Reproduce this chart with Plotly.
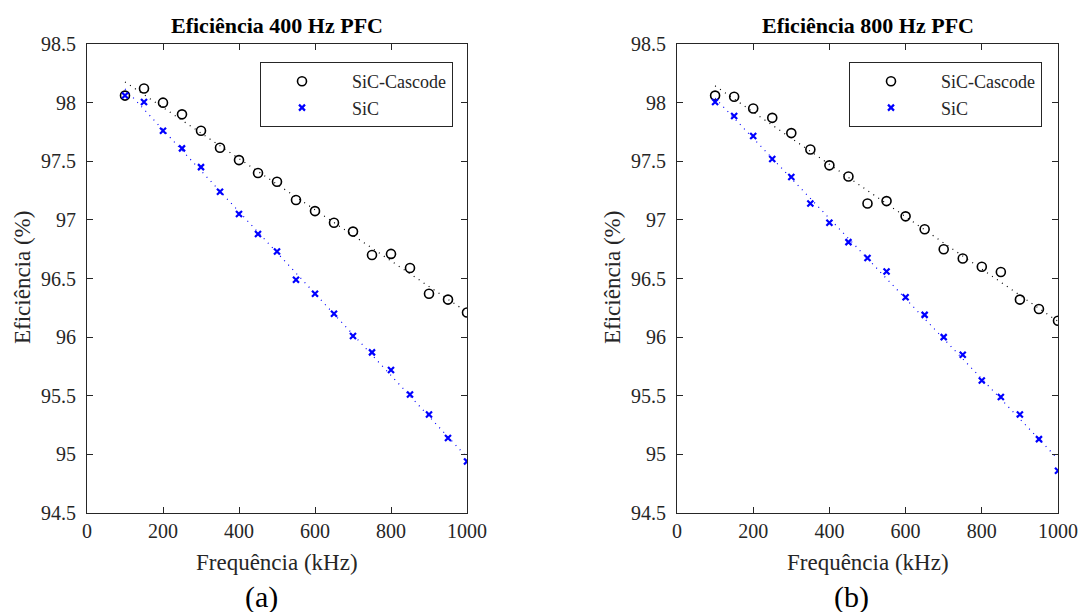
import numpy as np
import plotly.graph_objects as go

# Switching frequency (kHz)
freq_khz = [100, 150, 200, 250, 300, 350, 400, 450, 500, 550,
            600, 650, 700, 750, 800, 850, 900, 950, 1000]

# Efficiency (%) - 400 Hz PFC
eff400_cascode = [98.06, 98.12, 98.00, 97.90, 97.76, 97.615, 97.51, 97.40, 97.325, 97.17,
                  97.075, 96.975, 96.90, 96.70, 96.71, 96.59, 96.37, 96.32, 96.21]
eff400_sic = [98.06, 98.005, 97.76, 97.61, 97.45, 97.24, 97.05, 96.88, 96.73, 96.49,
              96.37, 96.20, 96.01, 95.87, 95.72, 95.51, 95.34, 95.14, 94.94]

# Efficiency (%) - 800 Hz PFC
eff800_cascode = [98.06, 98.05, 97.95, 97.87, 97.74, 97.60, 97.465, 97.37, 97.14, 97.16,
                  97.03, 96.92, 96.75, 96.67, 96.60, 96.555, 96.32, 96.24, 96.14]
eff800_sic = [98.005, 97.886, 97.715, 97.52, 97.365, 97.14, 96.975, 96.81, 96.675, 96.56,
              96.34, 96.19, 96.00, 95.85, 95.63, 95.49, 95.34, 95.13, 94.86]

x_ticks = [0, 200, 400, 600, 800, 1000]
y_ticks = [94.5, 95, 95.5, 96, 96.5, 97, 97.5, 98, 98.5]
y_tick_text = ["94.5", "95", "95.5", "96", "96.5", "97", "97.5", "98", "98.5"]

series_names = ["SiC-Cascode", "SiC"]
panel_titles = ["Eficiência 400 Hz PFC", "Eficiência 800 Hz PFC"]
panel_tags = ["(a)", "(b)"]
x_title = "Frequência (kHz)"
y_title = "Eficiência (%)"

SERIF = "Liberation Serif, Times New Roman, serif"
INK = "#262626"
W, H = 1080, 612

fig = go.Figure()

panels = [
    (eff400_cascode, eff400_sic, "x", "y", "legend"),
    (eff800_cascode, eff800_sic, "x2", "y2", "legend2"),
]

for cascode, sic, xa, ya, leg in panels:
    for vals, name, color, symbol, msize, mline in [
        (cascode, series_names[0], "black", "circle-open", 9, 1.6),
        (sic, series_names[1], "#0000FF", "x-thin", 6, 2.2),
    ]:
        # linear trend line through the measured points
        coef = np.polyfit(freq_khz, vals, 1)
        ends = [freq_khz[0], freq_khz[-1]]
        fig.add_trace(go.Scatter(
            x=ends, y=list(np.polyval(coef, ends)), mode="lines",
            line=dict(color=color, width=1.2, dash="1px,5px"),
            showlegend=False, hoverinfo="skip", xaxis=xa, yaxis=ya,
        ))
        fig.add_trace(go.Scatter(
            x=freq_khz, y=vals, mode="markers", name="\u00a0\u00a0" + name, legend=leg,
            marker=dict(symbol=symbol, size=msize, color=color,
                        line=dict(color=color, width=mline)),
            xaxis=xa, yaxis=ya,
        ))

x_domains = [[87 / W, 467 / W], [677 / W, 1058 / W]]
y_domain = [1 - 513 / H, 1 - 44 / H]

axis_common = dict(
    showgrid=False, zeroline=False, showline=True, linecolor=INK, linewidth=1,
    mirror="ticks", ticks="inside", ticklen=6, tickwidth=1, tickcolor=INK,
    automargin=False,
    tickfont=dict(family=SERIF, size=20, color=INK),
)

for i, suffix in enumerate(["", "2"]):
    fig.layout["xaxis" + suffix] = dict(
        axis_common, domain=x_domains[i], range=[0, 1000], tickvals=x_ticks,
        anchor="y" + suffix,
    )
    fig.layout["yaxis" + suffix] = dict(
        axis_common, domain=y_domain, range=[94.5, 98.5], tickvals=y_ticks,
        ticktext=y_tick_text, anchor="x" + suffix, ticklabelstandoff=6,
    )

annotations = []
for i in range(2):
    cx = (x_domains[i][0] + x_domains[i][1]) / 2
    annotations.append(dict(
        text="<b>" + panel_titles[i] + "</b>", x=cx, y=1 - 26 / H,
        xref="paper", yref="paper", showarrow=False, xanchor="center", yanchor="middle",
        font=dict(family=SERIF, size=22, color="black"),
    ))
    annotations.append(dict(
        text=x_title, x=cx, y=1 - 562 / H,
        xref="paper", yref="paper", showarrow=False, xanchor="center", yanchor="middle",
        font=dict(family=SERIF, size=23, color=INK),
    ))
    annotations.append(dict(
        text=y_title, x=x_domains[i][0] - 64 / W, y=1 - 278 / H, textangle=-90,
        xref="paper", yref="paper", showarrow=False, xanchor="center", yanchor="middle",
        font=dict(family=SERIF, size=23, color=INK),
    ))
    annotations.append(dict(
        text=panel_tags[i], x=cx - 16 / W, y=1 - 597 / H,
        xref="paper", yref="paper", showarrow=False, xanchor="center", yanchor="middle",
        font=dict(family=SERIF, size=30, color="black"),
    ))

legend_common = dict(
    bgcolor="white", bordercolor=INK, borderwidth=1,
    font=dict(family=SERIF, size=18, color=INK),
    xanchor="right", yanchor="top", itemwidth=72, y=1 - 62 / H,
    tracegroupgap=0,
)

fig.update_layout(
    width=W, height=H, margin=dict(l=0, r=0, t=0, b=0),
    paper_bgcolor="white", plot_bgcolor="white",
    font=dict(family=SERIF, color=INK),
    annotations=annotations,
    legend=dict(legend_common, x=453 / W),
    legend2=dict(legend_common, x=1042 / W),
)

fig.write_html("out.html")
